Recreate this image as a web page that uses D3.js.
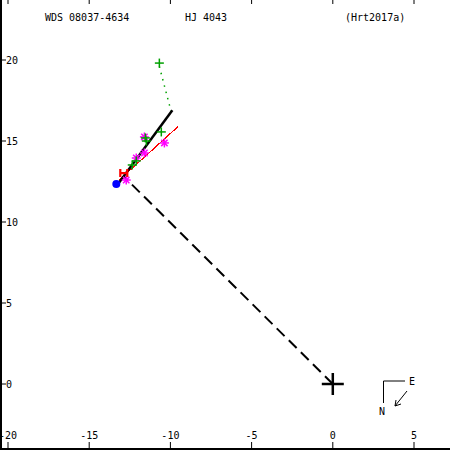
<!DOCTYPE html>
<html><head><meta charset="utf-8">
<script src="https://cdn.jsdelivr.net/npm/d3@7"></script>
<style>body{margin:0;background:#fff}svg{display:block}text{font-family:"DejaVu Sans Mono",monospace;font-size:10px;fill:#000}</style>
</head><body><svg id="c" width="450" height="450"></svg>
<script>
const xTicks = [-20,-15,-10,-5,0,5];
const yTicks = [0,5,10,15,20];
const titleLeft = "WDS 08037-4634";
const titleMid = "HJ 4043";
const titleRight = "(Hrt2017a)";
// observations (x, y in arcsec)
const greenPlus = [[-10.68,19.81],[-11.54,15.19],[-11.48,15.0],[-10.56,15.56],[-12.35,13.52],[-12.10,13.77]];
const magentaStar = [[-11.6,15.25],[-10.37,14.88],[-11.6,14.26],[-12.1,13.95],[-12.72,12.59]];
const bluePoint = [[-13.33,12.35]];
const hipPoint = [[-12.87,13.02]];
const fitLine = [[-13.27,12.28],[-9.88,16.9]];
const redLine = [[-13.15,12.6],[-9.52,15.9]];
const greenResid = [[-10.68,19.6],[-9.95,16.8]];
const primaryToLast = [[0,0],[-12.84,12.78]];

const svg = d3.select("#c");
const x = d3.scaleLinear().domain([-20,5]).range([8,414]);
const y = d3.scaleLinear().domain([0,20]).range([384,60]);

// frame
svg.append("line").attr("x1",1).attr("x2",1).attr("y1",0).attr("y2",450).attr("stroke","#000").attr("stroke-width",2);
svg.append("line").attr("x1",0).attr("x2",450).attr("y1",449).attr("y2",449).attr("stroke","#000").attr("stroke-width",2);
xTicks.forEach(t=>{
  svg.append("line").attr("x1",x(t)).attr("x2",x(t)).attr("y1",0).attr("y2",4).attr("stroke","#000");
  svg.append("line").attr("x1",x(t)).attr("x2",x(t)).attr("y1",442).attr("y2",449).attr("stroke","#000");
  svg.append("text").attr("x",x(t)).attr("y",439).attr("text-anchor","middle").text(t);
});
yTicks.forEach(t=>{
  svg.append("line").attr("x1",1).attr("x2",6).attr("y1",y(t)).attr("y2",y(t)).attr("stroke","#000");
  svg.append("text").attr("x",6).attr("y",y(t)+4).text(t);
});
svg.append("text").attr("x",45).attr("y",21).text(titleLeft);
svg.append("text").attr("x",185).attr("y",21).text(titleMid);
svg.append("text").attr("x",345).attr("y",21).text(titleRight);

const line = d3.line().x(d=>x(d[0])).y(d=>y(d[1]));
svg.append("path").attr("d",line(primaryToLast)).attr("stroke","#000").attr("stroke-width",2).attr("stroke-dasharray","11,6").attr("fill","none");
svg.append("path").attr("d",line(greenResid)).attr("stroke","#00a000").attr("stroke-width",1.5).attr("stroke-dasharray","1.5,5").attr("fill","none");
svg.append("path").attr("d",line(redLine)).attr("stroke","#ff0000").attr("stroke-width",1.2).attr("shape-rendering","crispEdges").attr("fill","none");
svg.append("path").attr("d",line(fitLine)).attr("stroke","#000").attr("stroke-width",2.5).attr("fill","none");

magentaStar.forEach(d=>{
  const g = svg.append("g").attr("transform",`translate(${x(d[0])},${y(d[1])})`);
  [0,45,90,135].forEach(a=>{
    const r=a*Math.PI/180, L=4.5;
    g.append("line").attr("x1",-L*Math.cos(r)).attr("y1",-L*Math.sin(r)).attr("x2",L*Math.cos(r)).attr("y2",L*Math.sin(r)).attr("stroke","#ff00ff").attr("stroke-width",1.5);
  });
});
greenPlus.forEach(d=>{
  const g = svg.append("g").attr("transform",`translate(${x(d[0])},${y(d[1])})`);
  g.append("line").attr("x1",-4.5).attr("x2",4.5).attr("y1",0).attr("y2",0).attr("stroke","#00a000").attr("stroke-width",1.5);
  g.append("line").attr("y1",-4.5).attr("y2",4.5).attr("x1",0).attr("x2",0).attr("stroke","#00a000").attr("stroke-width",1.5);
});
hipPoint.forEach(d=>{
  const g = svg.append("g").attr("transform",`translate(${x(d[0])},${y(d[1])})`).attr("stroke","#ff0000").attr("stroke-width",2.2).attr("fill","none");
  g.append("path").attr("d","M-3.5,-4V4M3.5,-4V4M-3.5,0H3.5");
});
bluePoint.forEach(d=>{
  svg.append("circle").attr("cx",x(d[0])).attr("cy",y(d[1])).attr("r",4).attr("fill","#0000ff");
});
// primary
const p = svg.append("g").attr("transform",`translate(${x(0)},${y(0)})`).attr("stroke","#000").attr("stroke-width",2.5);
p.append("line").attr("x1",-11).attr("x2",11);
p.append("line").attr("y1",-11).attr("y2",11);

// compass
svg.append("path").attr("d","M405,381H383.5V403").attr("stroke","#000").attr("fill","none");
svg.append("text").attr("x",409).attr("y",385).text("E");
svg.append("text").attr("x",379).attr("y",415).text("N");
svg.append("path").attr("d","M407,391L395,406M395,406L396,400M395,406L401,404").attr("stroke","#000").attr("fill","none");
</script></body></html>
